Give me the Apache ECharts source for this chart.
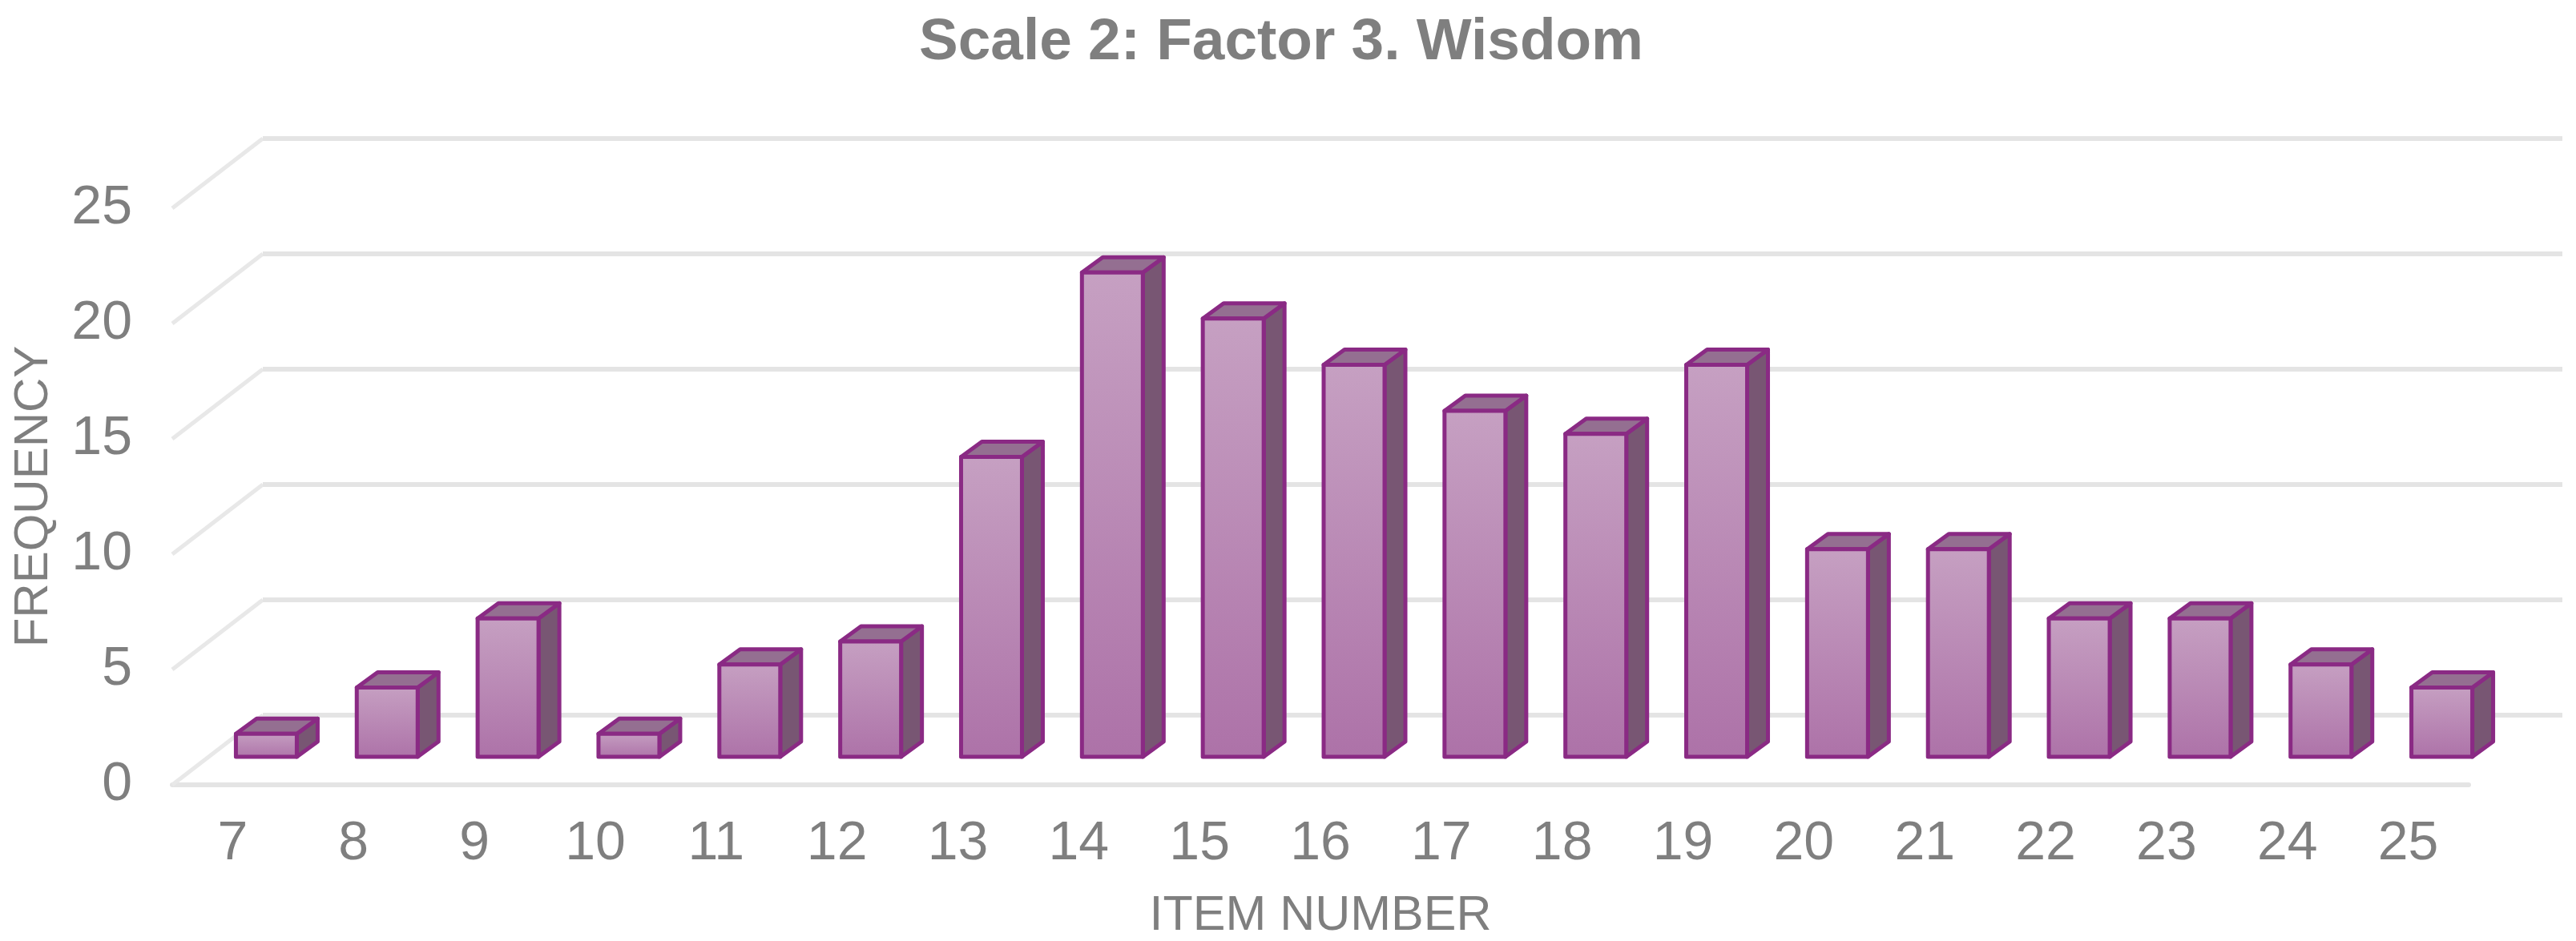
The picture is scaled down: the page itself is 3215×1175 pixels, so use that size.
<!DOCTYPE html>
<html>
<head>
<meta charset="utf-8">
<title>Scale 2: Factor 3. Wisdom</title>
<script src="https://cdn.jsdelivr.net/npm/echarts@6/dist/echarts.min.js"></script>
<style>
  html, body { margin: 0; padding: 0; background: #fff; }
  #main { width: 3215px; height: 1175px; }
</style>
</head>
<body>
<div id="main"></div>
<script>
var itemNumbers = ['7', '8', '9', '10', '11', '12', '13', '14', '15', '16', '17', '18', '19', '20', '21', '22', '23', '24', '25'];
var frequency = [1, 3, 6, 1, 4, 5, 13, 21, 19, 17, 15, 14, 17, 9, 9, 6, 6, 4, 3];
var yTicks = [0, 5, 10, 15, 20, 25];

var textColor = '#7f7f7f';
var fontName = '"Liberation Sans", Arial, sans-serif';

// 3d look: how far the back wall and the bars sit from the front axis plane
var wallDx = 113, wallDy = -87;
var barDx = 42, barDy = -35;
var depthDx = 26, depthDy = -19;
var barWidth = 76;

function renderWall(params, api) {
  var v = api.value(1);
  var p = api.coord([0, v]);
  var band = api.size([1, 0])[0];
  var left = p[0] - band / 2;
  var right = left + band * itemNumbers.length;
  return {
    type: 'group',
    children: [
      {
        type: 'line',
        shape: { x1: left, y1: p[1], x2: left + wallDx, y2: p[1] + wallDy },
        style: { stroke: '#e8e8e8', lineWidth: 5 }
      },
      {
        type: 'line',
        shape: { x1: left + wallDx, y1: p[1] + wallDy, x2: right + wallDx + 4, y2: p[1] + wallDy },
        style: { stroke: '#e4e4e4', lineWidth: 6 }
      }
    ]
  };
}

function renderBar(params, api) {
  var base = api.coord([api.value(0), 0]);
  var top = api.coord([api.value(0), api.value(1)]);
  var x0 = base[0] - barWidth / 2 + barDx;
  var x1 = x0 + barWidth;
  var y0 = base[1] + barDy;
  var y1 = top[1] + barDy;
  var border = { stroke: '#8a2a84', lineWidth: 5, lineJoin: 'round' };
  return {
    type: 'group',
    children: [
      {
        type: 'polygon',
        shape: { points: [[x1, y0], [x1 + depthDx, y0 + depthDy], [x1 + depthDx, y1 + depthDy], [x1, y1]] },
        style: Object.assign({ fill: '#785673' }, border)
      },
      {
        type: 'polygon',
        shape: { points: [[x0, y1], [x0 + depthDx, y1 + depthDy], [x1 + depthDx, y1 + depthDy], [x1, y1]] },
        style: Object.assign({ fill: '#946f91' }, border)
      },
      {
        type: 'rect',
        shape: { x: x0, y: y1, width: barWidth, height: y0 - y1 },
        style: Object.assign({
          fill: new echarts.graphic.LinearGradient(0, 0, 0, 1, [
            { offset: 0, color: '#c6a0c2' },
            { offset: 1, color: '#ad72a8' }
          ])
        }, border)
      }
    ]
  };
}

var myChart = echarts.init(document.getElementById('main'));
var option = {
  animation: false,
  backgroundColor: '#ffffff',
  title: {
    text: 'Scale 2: Factor 3. Wisdom',
    left: 1594,
    top: 12,
    textAlign: 'center',
    textStyle: { color: textColor, fontFamily: fontName, fontWeight: 'bold', fontSize: 73 }
  },
  grid: { left: 215, right: 134, top: 260, bottom: 195, outerBoundsMode: 'none' },
  xAxis: {
    type: 'category',
    data: itemNumbers,
    name: 'ITEM NUMBER',
    nameLocation: 'middle',
    nameGap: 134,
    nameTextStyle: { color: textColor, fontFamily: fontName, fontSize: 61 },
    axisLine: { lineStyle: { color: '#e4e4e4', width: 6 } },
    axisTick: { show: false },
    axisLabel: { color: textColor, fontFamily: fontName, fontSize: 68, margin: 40 }
  },
  yAxis: {
    type: 'value',
    min: 0,
    max: 25,
    interval: 5,
    name: 'FREQUENCY',
    nameLocation: 'middle',
    nameGap: 143,
    nameTextStyle: { color: textColor, fontFamily: fontName, fontSize: 60 },
    axisLine: { show: false },
    axisTick: { show: false },
    splitLine: { show: false },
    axisLabel: { color: textColor, fontFamily: fontName, fontSize: 68, margin: 50, padding: [0, 0, 12, 0] }
  },
  series: [
    {
      name: 'wall',
      type: 'custom',
      clip: false,
      silent: true,
      renderItem: renderWall,
      data: yTicks.map(function (v) { return [0, v]; }),
      z: 1
    },
    {
      name: 'Frequency',
      type: 'custom',
      clip: false,
      renderItem: renderBar,
      data: frequency.map(function (v, i) { return [i, v]; }),
      z: 2
    }
  ]
};
option && myChart.setOption(option);
</script>
</body>
</html>
